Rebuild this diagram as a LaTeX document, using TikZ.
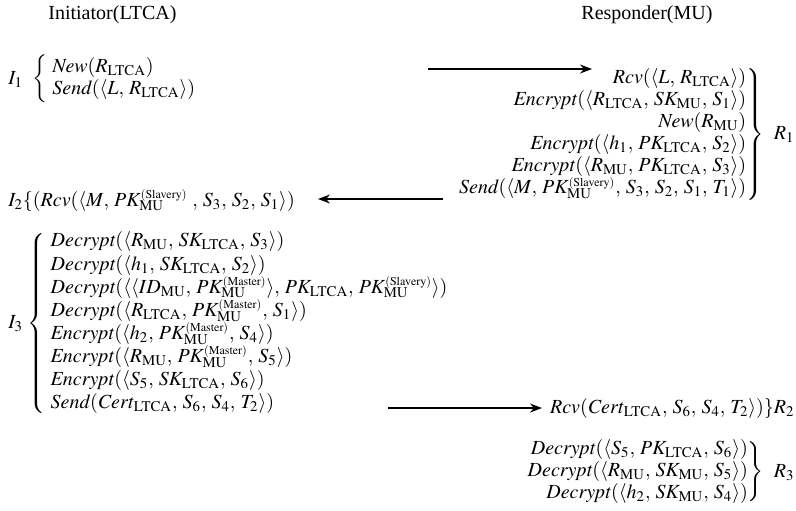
\documentclass[tikz,border=0pt]{standalone}
\usepackage{mathptmx}
\usepackage{fontspec}
\setmainfont{Liberation Serif}
\usetikzlibrary{arrows.meta}

\newcommand{\ltcasub}{_{\mathrm{LTCA}}}
\newcommand{\musub}{_{\mathrm{MU}}}
\newcommand{\pkmaster}{^{\smash{\scriptscriptstyle(\mathrm{Master})}}_{\smash{\mathrm{MU}}}}
\newcommand{\pkslave}{^{\smash{\scriptscriptstyle(\mathrm{Slavery})}}_{\smash{\mathrm{MU}}}}
\newcommand{\tup}[1]{\langle #1\rangle}

\begin{document}
\begin{tikzpicture}[x=0.5pt,y=-0.5pt, every node/.style={font=\normalsize, inner sep=0pt},
    msg/.style={-{Stealth[length=6pt,width=4.5pt]}, line width=0.6pt}]
  \thinmuskip=4.5mu
  \useasboundingbox (0,0) rectangle (796,510);
  % parties
  \node[anchor=base west] (init) at (48,19) {Initiator(LTCA)};
  \node[anchor=base west] (resp) at (581,19) {Responder(MU)};
  % initiator, first step
  \node[anchor=west] (i1) at (8,79) {\renewcommand{\arraystretch}{0.85}%
    $I_1\kern2.5pt\left\{\begin{array}{@{\;}l@{}}
      \mathit{New}(R\ltcasub)\\
      \mathit{Send}(\tup{L, R\ltcasub})
    \end{array}\right.$};
  % responder, first step
  \node[anchor=east] (r1) at (795,134) {\renewcommand{\arraystretch}{0.92}%
    $\left.\begin{array}{@{}r@{}}
      \mathit{Rcv}(\tup{L, R\ltcasub})\\
      \mathit{Encrypt}(\tup{R\ltcasub, SK\musub, S_1})\\
      \mathit{New}(R\musub)\\
      \mathit{Encrypt}(\tup{h_1, PK\ltcasub, S_2})\\
      \mathit{Encrypt}(\tup{R\musub, PK\ltcasub, S_3})\\
      \mathit{Send}(\tup{M, PK\pkslave, S_3, S_2, S_1, T_1})
    \end{array}\right\}\ R_1$};
  % initiator receives
  \node[anchor=base west] (i2) at (8,206)
    {$I_2\{(\mathit{Rcv}(\tup{M, PK\pkslave\ , S_3, S_2, S_1})$};
  % initiator, second step
  \node[anchor=west] (i3) at (8,323) {\renewcommand{\arraystretch}{0.96}%
    $I_3\left\{\begin{array}{@{\,}l@{}}
      \mathit{Decrypt}(\tup{R\musub, SK\ltcasub, S_3})\\
      \mathit{Decrypt}(\tup{h_1, SK\ltcasub, S_2})\\
      \mathit{Decrypt}(\tup{\tup{ID\musub, PK\pkmaster}, PK\ltcasub, PK\pkslave})\\
      \mathit{Decrypt}(\tup{R\ltcasub, PK\pkmaster, S_1})\\
      \mathit{Encrypt}(\tup{h_2, PK\pkmaster, S_4})\\
      \mathit{Encrypt}(\tup{R\musub, PK\pkmaster, S_5})\\
      \mathit{Encrypt}(\tup{S_5, SK\ltcasub, S_6})\\
      \mathit{Send}(\mathit{Cert}\ltcasub, S_6, S_4, T_2\rangle)
    \end{array}\right.$};
  % responder receives
  \node[anchor=base east] (r2) at (795,413)
    {$\mathit{Rcv}(\mathit{Cert}\ltcasub, S_6, S_4, T_2\rangle)\}R_2$};
  % responder, last step
  \node[anchor=east] (r3) at (795,472) {\renewcommand{\arraystretch}{0.92}%
    $\left.\begin{array}{@{}r@{}}
      \mathit{Decrypt}(\tup{S_5, PK\ltcasub, S_6})\\
      \mathit{Decrypt}(\tup{R\musub, SK\musub, S_5})\\
      \mathit{Decrypt}(\tup{h_2, SK\musub, S_4})
    \end{array}\right\}\ R_3$};
  % messages
  \coordinate (m1a) at (428,69);
  \coordinate (m1b) at (592,69);
  \coordinate (m2a) at (443,199);
  \coordinate (m2b) at (318,199);
  \coordinate (m3a) at (388,408);
  \coordinate (m3b) at (542,408);
  \draw[msg] (m1a) -- (m1b);
  \draw[msg] (m2a) -- (m2b);
  \draw[msg] (m3a) -- (m3b);
\end{tikzpicture}
\end{document}
